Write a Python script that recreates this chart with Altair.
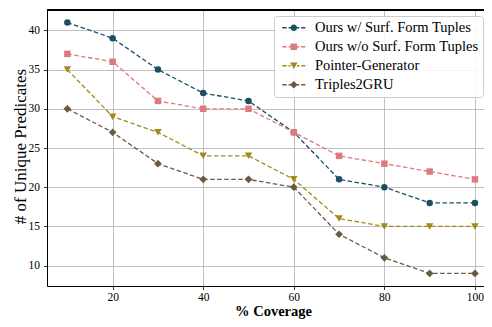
import altair as alt
import pandas as pd

coverage = [10, 20, 30, 40, 50, 60, 70, 80, 90, 100]
series_names = [
    "Ours w/ Surf. Form Tuples",
    "Ours w/o Surf. Form Tuples",
    "Pointer-Generator",
    "Triples2GRU",
]
ours_with = [41, 39, 35, 32, 31, 27, 21, 20, 18, 18]
ours_without = [37, 36, 31, 30, 30, 27, 24, 23, 22, 21]
pointer_gen = [35, 29, 27, 24, 24, 21, 16, 15, 15, 15]
triples2gru = [30, 27, 23, 21, 21, 20, 14, 11, 9, 9]
x_ticks = [20, 40, 60, 80, 100]
y_ticks = [10, 15, 20, 25, 30, 35, 40]

colors = ["#1b4f66", "#de7a7f", "#a08a1c", "#6b5a42"]
markers = ["circle", "square", "triangle-down", "diamond"]
marker_sizes = [42, 42, 56, 60]

all_values = [ours_with, ours_without, pointer_gen, triples2gru]
rows = []
for name, vals in zip(series_names, all_values):
    for c, v in zip(coverage, vals):
        rows.append({"coverage": c, "value": v, "series": name})
df = pd.DataFrame(rows)

FONT = "Liberation Serif"
PLOT_W = 437
PLOT_H = 276

# legend symbol: dashed line with marker in the middle (units: 3.5px)
SHIFT = 2.3
H = 0.19


def seg(a, b):
    return f"M{a + SHIFT:.2f},{-H}L{b + SHIFT:.2f},{-H}L{b + SHIFT:.2f},{H}L{a + SHIFT:.2f},{H}Z"


dash_path = seg(-3.29, -2.03) + seg(-1.49, -0.9) + seg(0.9, 1.57) + seg(2.11, 3.29)
c = SHIFT
marker_paths = [
    f"M{c + 0.93:.2f},0A0.93,0.93 0 1,1 {c - 0.93:.2f},0A0.93,0.93 0 1,1 {c + 0.93:.2f},0Z",
    f"M{c - 0.93:.2f},-0.93L{c + 0.93:.2f},-0.93L{c + 0.93:.2f},0.93L{c - 0.93:.2f},0.93Z",
    f"M{c - 1.05:.2f},-0.9L{c + 1.05:.2f},-0.9L{c:.2f},0.95Z",
    f"M{c:.2f},-1.1L{c + 1.1:.2f},0L{c:.2f},1.1L{c - 1.1:.2f},0Z",
]
legend_paths = [dash_path + m for m in marker_paths]

x_enc = alt.X(
    "coverage:Q",
    scale=alt.Scale(domain=[5.5, 102], nice=False, zero=False),
    axis=alt.Axis(
        values=x_ticks,
        title="% Coverage",
        titleFontWeight="bold",
        titleFontSize=14.5,
        titleX=226,
        titleY=29.8,
        titleBaseline="alphabetic",
        labelPadding=1.5,
    ),
)
y_enc = alt.Y(
    "value:Q",
    scale=alt.Scale(domain=[7.4, 42.6], nice=False, zero=False),
    axis=alt.Axis(
        values=y_ticks,
        title="# of Unique Predicates",
        titleFontWeight="normal",
        titleFontSize=17,
        titleX=-27,
        titleY=136,
        titleBaseline="middle",
        titleAlign="center",
        labelPadding=4,
    ),
)

layers = []
for name, col in zip(series_names, colors):
    layers.append(
        alt.Chart(df)
        .transform_filter(alt.datum.series == name)
        .mark_line(strokeDash=[4.5, 2.5], strokeWidth=1.3, color=col)
        .encode(x=x_enc, y=y_enc)
    )
for name, col, shp, sz in zip(series_names, colors, markers, marker_sizes):
    layers.append(
        alt.Chart(df)
        .transform_filter(alt.datum.series == name)
        .mark_point(filled=True, shape=shp, size=sz, color=col, opacity=1)
        .encode(x=x_enc, y=y_enc)
    )

leg = alt.Legend(
    title=None,
    orient="none",
    legendX=227,
    legendY=6,
    padding=4.5,
    rowPadding=4,
    labelOffset=22,
    labelLimit=300,
    labelFont=FONT,
    labelFontSize=14.5,
    labelColor="#000000",
    symbolSize=49,
    symbolOpacity=1,
    strokeColor="#cccccc",
    fillColor="rgba(255,255,255,0.85)",
    cornerRadius=3,
)

legend_layer = (
    alt.Chart(df)
    .mark_point(filled=True, size=49)
    .encode(
        x=x_enc,
        y=y_enc,
        opacity=alt.value(0),
        color=alt.Color(
            "series:N",
            scale=alt.Scale(domain=series_names, range=colors),
            legend=leg,
        ),
        shape=alt.Shape(
            "series:N",
            scale=alt.Scale(domain=series_names, range=legend_paths),
            legend=leg,
        ),
    )
)

top_spine = (
    alt.Chart(df)
    .mark_rule(color="black", strokeWidth=1)
    .encode(x=alt.value(0), x2=alt.value(PLOT_W), y=alt.value(0))
)

chart = (
    alt.layer(*layers, legend_layer, top_spine)
    .properties(
        width=PLOT_W,
        height=PLOT_H,
        autosize="none",
        padding={"left": 39, "top": 2, "right": 0, "bottom": 33},
    )
    .configure_view(strokeWidth=0)
    .configure_axis(
        labelFont=FONT,
        titleFont=FONT,
        labelFontSize=11.5,
        labelColor="#000000",
        titleColor="#000000",
        tickColor="#000000",
        tickSize=3.5,
        tickWidth=0.8,
        domainColor="#000000",
        domainWidth=1,
        gridColor="#b0b0b0",
        gridWidth=0.8,
    )
)

chart.save("out.html", embed_options={"renderer": "svg", "actions": False})
